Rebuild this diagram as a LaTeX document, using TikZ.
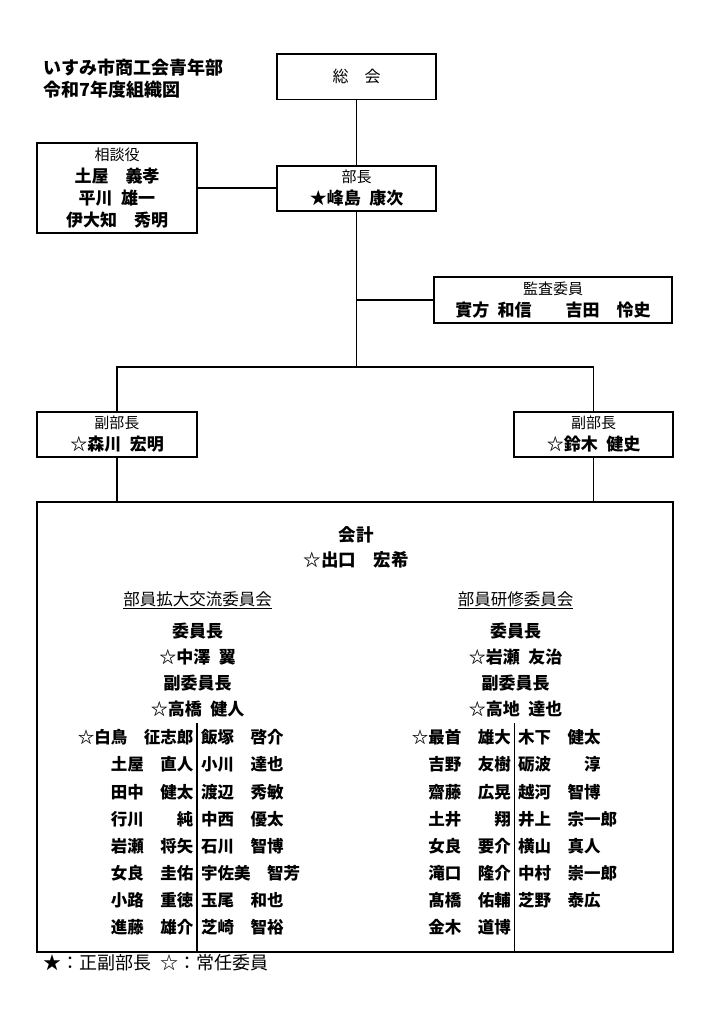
\documentclass[tikz,border=0pt]{standalone}
\usepackage{fontspec}
\setmainfont{Noto Sans CJK JP}
\usetikzlibrary{calc}
\newcommand{\hsp}{\hspace{.5em}}
\newcommand{\rolename}[1]{{\mdseries\fontsize{15}{22}\selectfont #1}}
\tikzset{
	orgbox/.style={draw, line width=1.4pt, inner sep=0pt, align=center,
			font=\bfseries\fontsize{17}{22}\selectfont},
	link/.style={line width=1.4pt},
	member/.style={inner sep=0pt, font=\bfseries\fontsize{16.5}{20}\selectfont},
	chair/.style={inner sep=0pt, align=center, font=\bfseries\fontsize{17}{26}\selectfont},
	heading/.style={inner sep=0pt, font=\fontsize{16.5}{20}\selectfont},
	note/.style={inner sep=0pt, font=\fontsize{18}{22}\selectfont}
}

\begin{document}
\begin{tikzpicture}[x=1pt, y=-1pt]
	\useasboundingbox (0,0) rectangle (709,1034);

	\node[inner sep=0pt, align=left, anchor=west, font=\bfseries\fontsize{18}{22}\selectfont] (title) at (43,79) {いすみ市商工会青年部\\令和7年度組織図};

	\node[orgbox, minimum width=159pt, minimum height=45.5pt, font=\fontsize{16}{22}\selectfont] (soukai) at (356.5,76.75) {総　会};
	\node[orgbox, minimum width=159pt, minimum height=45pt] (bucho) at (356.5,188.5) {\rolename{部長}\\★峰島\hsp 康次};
	\node[orgbox, minimum width=160pt, minimum height=90pt] (sodan) at (117,188) {\rolename{相談役}\\土屋　義孝\\平川\hsp 雄一\\伊大知　秀明};
	\node[orgbox, minimum width=238pt, minimum height=46pt] (kansa) at (553,300) {\rolename{監査委員}\\實方\hsp 和信　　吉田　怜史};
	\node[orgbox, minimum width=160pt, minimum height=45pt] (fukuL) at (117,434.5) {\rolename{副部長}\\☆森川\hsp 宏明};
	\node[orgbox, minimum width=159pt, minimum height=45pt] (fukuR) at (593.5,434.5) {\rolename{副部長}\\☆鈴木\hsp 健史};
	\node[orgbox, minimum width=636pt, minimum height=450pt] (iinkai) at (355,727) {};
	\coordinate (br) at (356.5,367);

	\draw[link] (soukai) -- (bucho);
	\draw[link] (sodan.east) -- (sodan.east -| bucho.west);
	\draw[link] (bucho) -- (br);
	\draw[link] (bucho.south |- kansa.west) -- (kansa.west);
	\draw[link] (fukuL.north) |- (br) -| (fukuR.north);
	\draw[link] (fukuL) -- (fukuL |- iinkai.north);
	\draw[link] (fukuR) -- (fukuR |- iinkai.north);

	\node[chair, font=\bfseries\fontsize{17.5}{25}\selectfont] (kaikei) at (356,547.5) {会計\\☆出口　宏希};
	\node[heading, anchor=base] (headL) at (197.5,605) {\underline{部員拡大交流委員会}};
	\node[heading, anchor=base] (headR) at (515.5,605) {\underline{部員研修委員会}};
	\node[chair] (chairL) at (197.5,670) {委員長\\☆中澤\hsp 翼\\副委員長\\☆高橋\hsp 健人};
	\node[chair] (chairR) at (515.5,670) {委員長\\☆岩瀬\hsp 友治\\副委員長\\☆高地\hsp 達也};

	\foreach \nm [count=\i from 0] in {☆白鳥　征志郎, 土屋　直人, 田中　健太, 行川　　純, 岩瀬　将矢, 女良　圭佑, 小路　重徳, 進藤　雄介}
		\node[member, anchor=east] (aL\i) at (193.5,{737.5+27.15*\i}) {\nm};
	\foreach \nm [count=\i from 0] in {飯塚　啓介, 小川　達也, 渡辺　秀敏, 中西　優太, 石川　智博, 宇佐美　智芳, 玉尾　和也, 芝崎　智裕}
		\node[member, anchor=west] (aR\i) at (201,{737.5+27.15*\i}) {\nm};
	\foreach \nm [count=\i from 0] in {☆最首　雄大, 吉野　友樹, 齋藤　広晃, 土井　　翔, 女良　要介, 滝口　隆介, 髙橋　佑輔, 金木　道博}
		\node[member, anchor=east] (bL\i) at (511,{737.5+27.15*\i}) {\nm};
	\foreach \nm [count=\i from 0] in {木下　健太, 砺波　　淳, 越河　智博, 井上　宗一郎, 横山　真人, 中村　崇一郎, 芝野　泰広}
		\node[member, anchor=west] (bR\i) at (518,{737.5+27.15*\i}) {\nm};

	\coordinate (divL) at (197,723);
	\coordinate (divR) at (514.5,723);
	\draw[link] (divL) -- (divL |- iinkai.south);
	\draw[link] (divR) -- (divR |- iinkai.south);

	\node[note, anchor=west] (legend) at (43,963) {★：正副部長\hsp ☆：常任委員};
\end{tikzpicture}
\end{document}
